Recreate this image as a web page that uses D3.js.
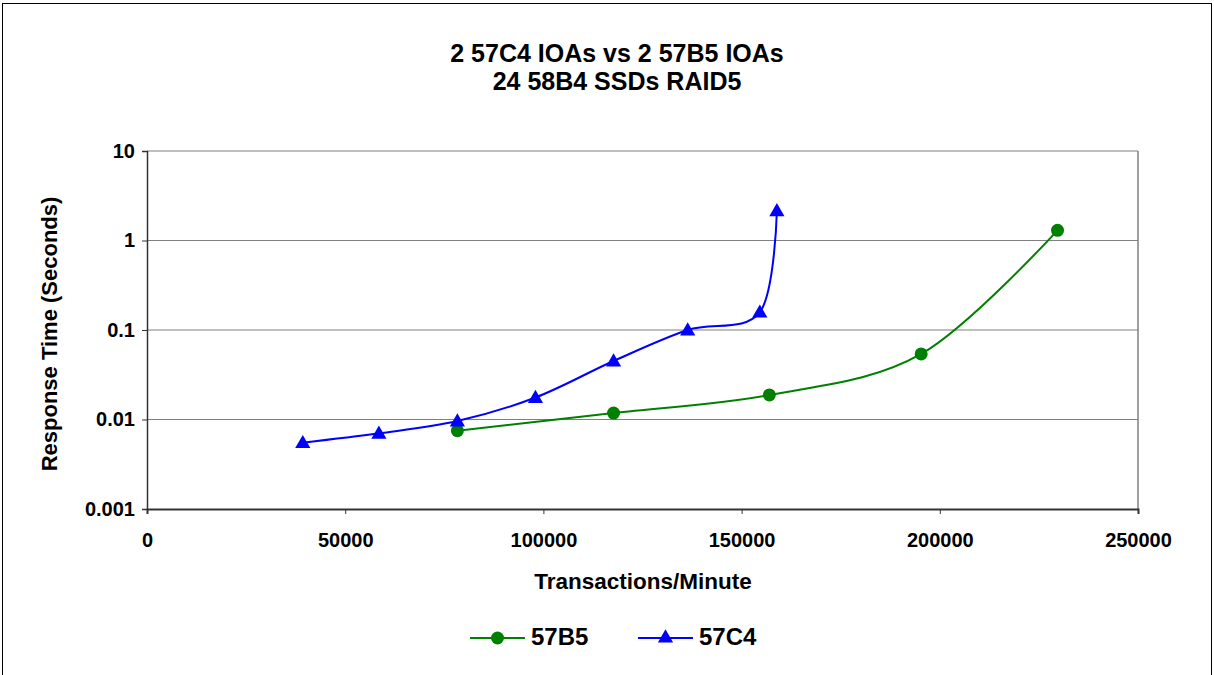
<!DOCTYPE html>
<html>
<head>
<meta charset="utf-8">
<script src="https://cdn.jsdelivr.net/npm/d3@7"></script>
<style>
  body { margin: 0; background: #fff; }
  text { font-family: "Liberation Sans", Arial, sans-serif; font-weight: bold; fill: #000; }
</style>
</head>
<body>
<div id="chart"></div>
<script>
// data
const titleLines = ['2 57C4 IOAs vs 2 57B5 IOAs', '24 58B4 SSDs RAID5'];
const b5X = [78300, 117700, 157000, 195300, 229700];
const b5Y = [0.0075, 0.0118, 0.0188, 0.054, 1.3];
const c4X = [39300, 58500, 78300, 98000, 117700, 136400, 154600, 158900];
const c4Y = [0.0055, 0.007, 0.0096, 0.0176, 0.045, 0.1, 0.158, 2.15];
const xTicks = [0, 50000, 100000, 150000, 200000, 250000];
const yTicks = [0.001, 0.01, 0.1, 1, 10];

const width = 1214, height = 675;
const svg = d3.select('#chart').append('svg').attr('width', width).attr('height', height);

// outer chart border
svg.append('rect').attr('x', 2.5).attr('y', 3.5).attr('width', 1209).attr('height', 680)
  .attr('fill', 'none').attr('stroke', '#000').attr('stroke-width', 1);

const x = d3.scaleLinear().domain([0, 250000]).range([147, 1138]);
const y = d3.scaleLog().domain([0.001, 10]).range([509, 151]);

// grid + plot border
svg.selectAll('line.grid').data(yTicks.slice(1)).enter().append('line')
  .attr('x1', x(0)).attr('x2', x(250000))
  .attr('y1', d => y(d)).attr('y2', d => y(d))
  .attr('stroke', '#808080').attr('stroke-width', 1);
svg.append('line').attr('x1', x(250000)).attr('x2', x(250000)).attr('y1', y(10)).attr('y2', y(0.001))
  .attr('stroke', '#808080').attr('stroke-width', 1.5);

// axes
const xAxis = svg.append('g').attr('transform', `translate(0,${y(0.001)})`)
  .call(d3.axisBottom(x).tickValues(xTicks).tickFormat(d3.format('d')).tickSize(5).tickPadding(19));
const yAxis = svg.append('g').attr('transform', `translate(${x(0)},0)`)
  .call(d3.axisLeft(y).tickValues(yTicks).tickFormat(d => String(d)).tickSize(5).tickPadding(7));
[xAxis, yAxis].forEach(g => {
  g.select('.domain').attr('stroke', '#333').attr('stroke-width', 2);
  g.selectAll('.tick line').attr('stroke', '#333');
  g.selectAll('.tick text').style('font-size', '20px').style('font-family', '"Liberation Sans", Arial, sans-serif')
    .style('font-weight', 'bold').attr('fill', '#000');
});
yAxis.select('.domain').attr('stroke-width', 1.5);

// lines
const line = d3.line().x(d => x(d[0])).y(d => y(d[1])).curve(d3.curveCardinal.tension(0));
const b5 = b5X.map((v, i) => [v, b5Y[i]]);
const c4 = c4X.map((v, i) => [v, c4Y[i]]);

svg.append('path').datum(b5).attr('d', line).attr('fill', 'none').attr('stroke', '#008000').attr('stroke-width', 2);
svg.append('path').datum(c4).attr('d', line).attr('fill', 'none').attr('stroke', '#0000ff').attr('stroke-width', 2);

const tri = d3.symbol().type(d3.symbolTriangle).size(100);
svg.selectAll('circle.b5').data(b5).enter().append('circle')
  .attr('cx', d => x(d[0])).attr('cy', d => y(d[1])).attr('r', 6.5).attr('fill', '#008000');
svg.selectAll('path.c4').data(c4).enter().append('path')
  .attr('d', tri).attr('transform', d => `translate(${x(d[0])},${y(d[1]) + 1})`).attr('fill', '#0000ff');

// titles
svg.selectAll('text.title').data(titleLines).enter().append('text')
  .attr('x', 617).attr('y', (d, i) => 62 + i * 28.3).attr('text-anchor', 'middle')
  .style('font-size', '25px').text(d => d);
svg.append('text').attr('x', 643).attr('y', 589).attr('text-anchor', 'middle')
  .style('font-size', '22.5px').text('Transactions/Minute');
svg.append('text').attr('transform', `translate(57,${(y(10) + y(0.001)) / 2 + 4}) rotate(-90)`)
  .attr('text-anchor', 'middle').style('font-size', '22px').text('Response Time (Seconds)');

// legend
const legend = [
  { name: '57B5', color: '#008000', shape: 'circle', x0: 470 },
  { name: '57C4', color: '#0000ff', shape: 'tri', x0: 638 }
];
const ly = 638;
legend.forEach(l => {
  svg.append('line').attr('x1', l.x0).attr('x2', l.x0 + 55).attr('y1', ly).attr('y2', ly)
    .attr('stroke', l.color).attr('stroke-width', 2);
  if (l.shape === 'circle') {
    svg.append('circle').attr('cx', l.x0 + 27.5).attr('cy', ly).attr('r', 6.5).attr('fill', l.color);
  } else {
    svg.append('path').attr('d', tri).attr('transform', `translate(${l.x0 + 27.5},${ly})`).attr('fill', l.color);
  }
  svg.append('text').attr('x', l.x0 + 61).attr('y', 645).style('font-size', '24px').text(l.name);
});
</script>
</body>
</html>
